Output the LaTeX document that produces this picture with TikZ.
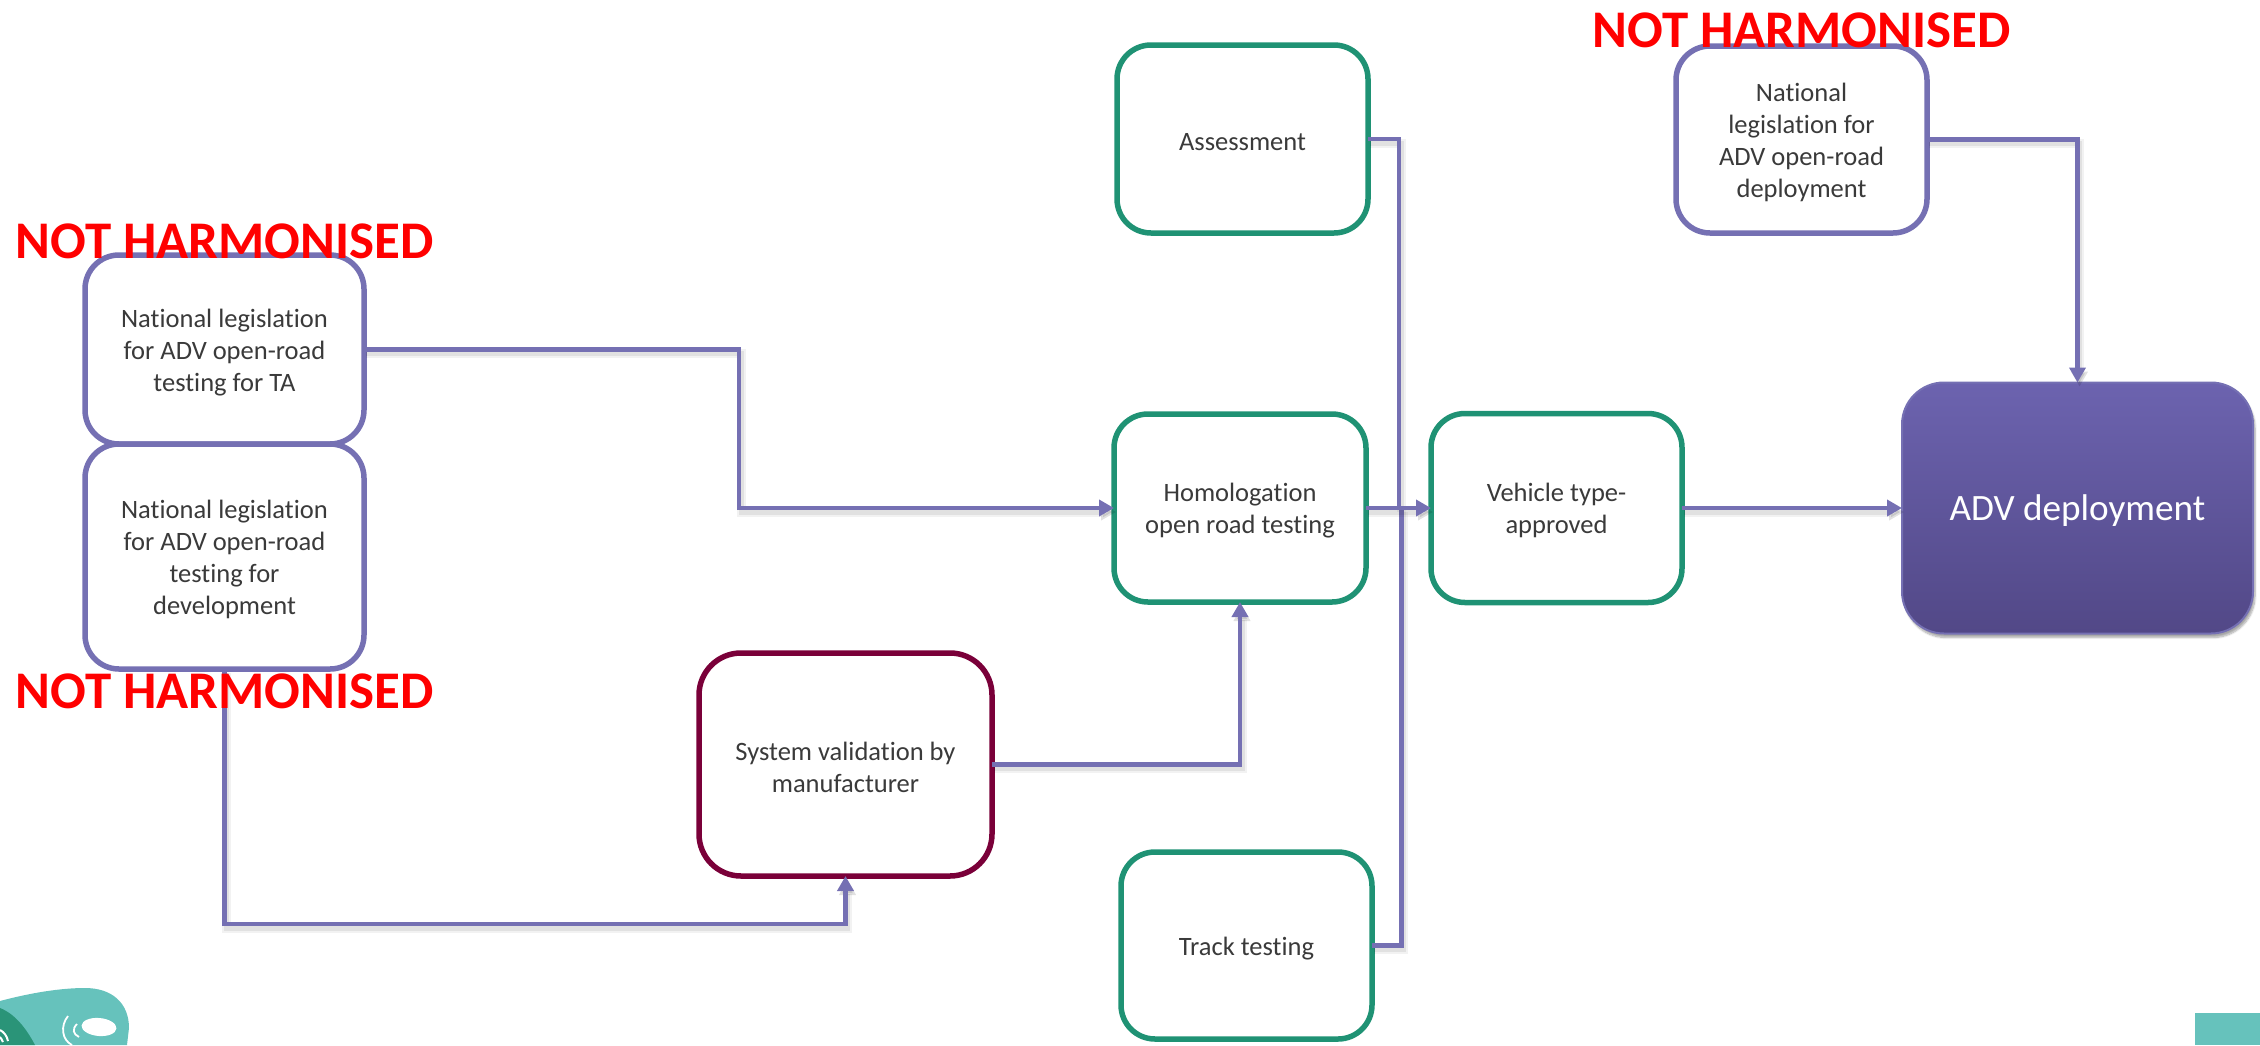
\documentclass[tikz,border=0pt]{standalone}
\usepackage{fontspec}
\setmainfont[Ligatures=NoCommon]{Carlito}
\usetikzlibrary{arrows.meta,shadows.blur}
\definecolor{purp}{HTML}{7570B3}
\definecolor{grn}{HTML}{1F9274}
\definecolor{wine}{HTML}{7A0039}
\definecolor{txt}{HTML}{3A3A3A}
\definecolor{teal1}{HTML}{66C2BC}
\definecolor{teal2}{HTML}{2A9478}
\definecolor{HdrTop}{HTML}{6C63AF}
\definecolor{HdrBot}{HTML}{524887}
\newcommand{\padtop}{\rule{0pt}{24pt}}
\tikzset{
  boxbase/.style={draw,line width=5.5pt,fill=white,rounded corners=34pt,inner sep=0pt,outer sep=0pt,align=center,
    font=\fontsize{26.5}{32}\selectfont,text=txt},
  purplebox/.style={boxbase,draw=purp},
  greenbox/.style={boxbase,draw=grn},
  winebox/.style={boxbase,draw=wine,rounded corners=42pt},
  deploybox/.style={draw=purp,line width=2pt,top color=HdrTop,bottom color=HdrBot,rounded corners=42pt,inner sep=0pt,outer sep=0pt,
    text=white,font=\fontsize{37.2}{44}\selectfont,blur shadow={shadow xshift=2pt,shadow yshift=-4pt,shadow blur steps=8,shadow opacity=35}},
  conn/.style={draw=purp,line width=4.5pt,
    preaction={draw=black,opacity=.05,line width=9pt,transform canvas={xshift=2pt,yshift=-4pt}},
    preaction={draw=black,opacity=.07,line width=5pt,transform canvas={xshift=2pt,yshift=-4pt}}},
  connarrow/.style={conn,-{Triangle[length=15pt,width=16pt]}},
  warn/.style={text=red,font=\fontsize{52.9}{53}\selectfont\bfseries,anchor=base,inner sep=0pt},
}
\begin{document}
\begin{tikzpicture}[x=1pt,y=-1pt]
\useasboundingbox (0,0) rectangle (2260,1045);
% footer
\fill[teal1] (2195,1013) rectangle (2260,1045);
\fill[teal1] (0,1001) .. controls (30,993) and (60,988) .. (85,988)
  .. controls (112,988) and (129,1003) .. (129,1028) -- (127,1045) -- (0,1045) -- cycle;
\fill[teal2] (0,1008) .. controls (15,1014) and (26,1028) .. (35,1045) -- (0,1045) -- cycle;
\draw[white,line width=2pt] (0,1030) .. controls (4,1032) and (7,1036) .. (8,1041);
\draw[white,line width=2pt] (0,1037) .. controls (1,1038) and (2,1040) .. (3,1042);
\fill[white,rotate around={-5:(99,1027)}] (99,1027) ellipse (17.5pt and 9pt);
\draw[white,line width=1.8pt] (68,1016) .. controls (60,1026) and (62,1040) .. (72,1045);
\draw[white,line width=1.8pt] (77,1024) .. controls (72,1029) and (73,1034) .. (79,1037);
% routing points
\coordinate (c1) at (739,508);
\coordinate (c2) at (845.5,924);
\coordinate (c3) at (1399,508);
\coordinate (c4) at (1401.5,508);
% nodes
\node[purplebox,minimum width=279pt,minimum height=189pt] (ta) at (224.5,349.5) {\padtop National legislation\\for ADV open-road\\testing for TA};
\node[purplebox,minimum width=279pt,minimum height=225pt] (dev) at (224.5,556.5) {\padtop National legislation\\for ADV open-road\\testing for\\development};
\node[greenbox,minimum width=251pt,minimum height=188pt] (as) at (1242.5,139) {\padtop Assessment};
\node[greenbox,minimum width=252pt,minimum height=188pt] (hom) at (1240,508) {\padtop Homologation\\open road testing};
\node[greenbox,minimum width=251pt,minimum height=189pt] (veh) at (1556.5,508) {\padtop Vehicle type-\\approved};
\node[greenbox,minimum width=251pt,minimum height=187pt] (track) at (1246.5,945.5) {\padtop Track testing};
\node[winebox,minimum width=293pt,minimum height=223pt] (sys) at (845.5,764.5) {\padtop System validation by\\manufacturer};
\node[purplebox,minimum width=251pt,minimum height=187pt] (nat) at (1801.5,139.5) {\padtop National\\legislation for\\ADV open-road\\deployment};
\node[deploybox,minimum width=351pt,minimum height=251pt] (adv) at (2077.5,508) {\rule{0pt}{30pt}ADV deployment};
% connectors
\path[connarrow] (ta.east) -| (c1) -- (hom.west);
\path[connarrow] (dev.south) |- (c2) -- (sys.south);
\path[connarrow] (sys.east) -| (hom.south);
\path[conn] (as.east) -| (c3);
\path[conn] (track.east) -| (c4);
\path[connarrow] (hom.east) -- (veh.west);
\path[connarrow] (veh.east) -- (adv.west);
\path[connarrow] (nat.east) -| (adv.north);
% labels
\node[warn] (w1) at (224.5,258) {NOT HARMONISED};
\node[warn] (w2) at (224.5,708) {NOT HARMONISED};
\node[warn] (w3) at (1801.5,47) {NOT HARMONISED};
\end{tikzpicture}
\end{document}
